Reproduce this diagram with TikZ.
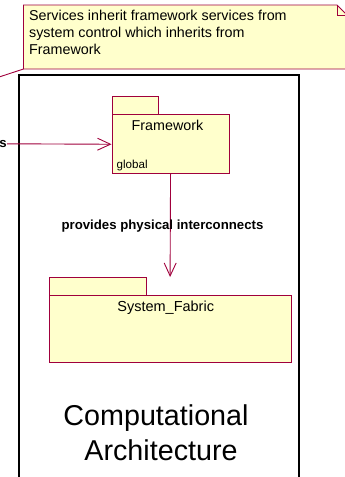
\documentclass[tikz,border=0pt]{standalone}
\usepackage{fontspec}
\setmainfont{Liberation Sans}
\usetikzlibrary{arrows.meta}
\definecolor{umlred}{RGB}{160,0,60}
\definecolor{umlfill}{RGB}{255,255,204}
\tikzset{
  pkg/.style={draw=umlred, fill=umlfill, line width=0.9pt, inner sep=0pt, anchor=north west},
  lbl/.style={inner sep=0pt, text=black},
  conn/.style={draw=umlred, line width=0.9pt},
  open/.style={-{Straight Barb[length=13pt,width=12pt,line width=0.9pt]}},
}
\begin{document}
\begin{tikzpicture}[x=1pt,y=-1pt]
\useasboundingbox (0,0) rectangle (345,477);
\clip (0,0) rectangle (345,477);
% note
\coordinate (nNW) at (23.5,5);
\coordinate (nSE) at (347,69);
\coordinate (nSW) at (23.5,69);
\coordinate (nfold) at (337,5);
\coordinate (nfold2) at (347,15);
\filldraw[draw=umlred, fill=umlfill, line width=0.9pt]
  (nNW) -- (nfold) -- (nfold2) -- (nSE) -- (nSW) -- cycle;
\draw[umlred, line width=0.9pt] (nfold) -- (337,15) -- (nfold2);
\node[lbl, anchor=north west, align=left, font=\fontsize{14.3}{16.6}\selectfont] (notetext) at (29,10.3)
  {Services inherit framework services from\\system control which inherits from\\Framework};
\coordinate (noteend) at (0,76.7);
\draw[conn] (noteend) -- (nSW);
% big box
\draw[black, line width=1.8pt] (19,490) -- (19,75) -- (299,75) -- (299,490);
% Framework package
\node[pkg, minimum width=46.5pt, minimum height=18.3pt] (fwtab) at (111.5,96) {};
\node[pkg, minimum width=117.2pt, minimum height=59pt] (fw) at (111.5,114.3) {};
\node[lbl, anchor=base, font=\fontsize{14.3}{17}\selectfont] (fwname) at (167.5,130.7) {Framework};
\node[lbl, anchor=base west, font=\fontsize{11.6}{14}\selectfont] (fwglob) at (116.5,168.3) {global};
% System_Fabric package
\node[pkg, minimum width=97pt, minimum height=18pt] (sftab) at (49,277) {};
\node[pkg, minimum width=242pt, minimum height=67pt] (sf) at (49,295) {};
\node[lbl, anchor=base, font=\fontsize{14.5}{17}\selectfont] (sfname) at (165.7,311) {System\_Fabric};
% connectors
\node[lbl, anchor=east, font=\bfseries\fontsize{13.2}{16}\selectfont] (slbl) at (7,143.8) {s};
\draw[conn, open] (slbl.east) -- (fw.west);
\coordinate (sftop) at (170.1,277);
\draw[conn, open] (fw.south) -- (sftop);
\node[lbl, anchor=base, font=\bfseries\fontsize{13.2}{16}\selectfont] (piclbl) at (162.5,229.3) {provides physical interconnects};
% title
\node[lbl, anchor=base, font=\fontsize{28.7}{35}\selectfont] (t1) at (156,425) {Computational};
\node[lbl, anchor=base, font=\fontsize{28.7}{35}\selectfont] (t2) at (161,460) {Architecture};
\end{tikzpicture}
\end{document}
